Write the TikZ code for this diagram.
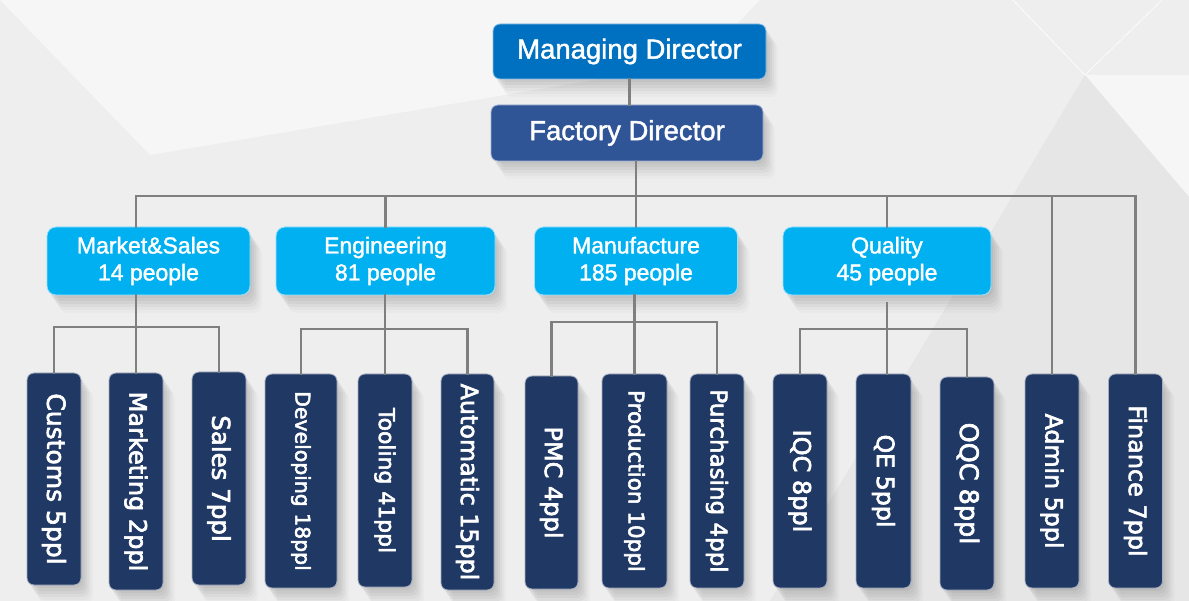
\documentclass[tikz,border=0pt]{standalone}
\usepackage{fontspec}
\setmainfont{Liberation Sans}[FakeBold=1.6]
\newfontfamily\vfont{DejaVu Sans}[FakeBold=2.6]
\usetikzlibrary{shadows}
\definecolor{mdblue}{HTML}{0070C0}
\definecolor{fdblue}{HTML}{2F5597}
\definecolor{deptblue}{HTML}{00B0F0}
\definecolor{navy}{HTML}{203864}
\definecolor{conngray}{HTML}{7F7F7F}
\definecolor{bgbase}{HTML}{EEEEEE}
\definecolor{bglight}{HTML}{F6F6F6}
\definecolor{bgdark}{HTML}{E6E6E6}
\tikzset{
  shd/.style={
    general shadow={fill=black,opacity=.04,shadow xshift=2pt,shadow yshift=-3pt},
    general shadow={fill=black,opacity=.04,shadow xshift=4pt,shadow yshift=-6pt},
    general shadow={fill=black,opacity=.035,shadow xshift=6pt,shadow yshift=-9pt},
    general shadow={fill=black,opacity=.03,shadow xshift=8pt,shadow yshift=-12pt},
    general shadow={fill=black,opacity=.025,shadow xshift=10pt,shadow yshift=-15pt},
    general shadow={fill=black,opacity=.02,shadow xshift=12pt,shadow yshift=-18pt}},
  topbox/.style={shd, rectangle, rounded corners=7pt, inner sep=0pt, outer sep=0pt,
    text=white, font=\fontsize{27.5}{30}\selectfont, line width=0.8pt},
  deptbox/.style={shd, rectangle, rounded corners=9pt, inner sep=0pt, outer sep=0pt,
    fill=deptblue, draw=deptblue!40!white, line width=0.8pt, text=white,
    align=center, font=\fontsize{23}{27}\selectfont, minimum height=68pt},
  leafbox/.style={shd, rectangle, rounded corners=7pt, inner sep=0pt, outer sep=0pt,
    fill=navy, draw=navy!40!white, line width=0.8pt},
  leaftext/.style={text=white, rotate=-90, inner sep=0pt, font=\vfont\fontsize{#1}{#1}\selectfont},
  conn/.style={draw=conngray, line width=2.2pt, line cap=rect},
}
\begin{document}
\begin{tikzpicture}[x=1pt,y=-1pt]
% background
\fill[bgbase] (0,0) rectangle (1189,601);
\useasboundingbox (0,0) rectangle (1189,601);
\fill[bglight] (0,0) -- (150,155) -- (700,62) -- (760,0) -- cycle;
\fill[bglight] (1085,75) -- (1189,75) -- (1189,197) -- cycle;
\fill[bgdark] (1085,75) -- (1189,197) -- (1189,601) -- (770,601) -- cycle;
\draw[white, line width=0.6pt] (1013,0) -- (1085,75) -- (1162,0);

% top boxes
\node[topbox, fill=mdblue, draw=mdblue!45!white, minimum width=273pt, minimum height=55pt]
  (md) at (629.5,51.5) {Managing Director};
\node[topbox, fill=fdblue, draw=fdblue!45!white, minimum width=272pt, minimum height=56pt]
  (fd) at (627,133) {Factory Director};

% departments
\node[deptbox, minimum width=203pt] (ms) at (148.5,261) {Market\&Sales\\14 people};
\node[deptbox, minimum width=219pt] (eng) at (385.5,261) {Engineering\\81 people};
\node[deptbox, minimum width=203pt] (man) at (636,261) {Manufacture\\185 people};
\node[deptbox, minimum width=208pt] (qual) at (887,261) {Quality\\45 people};

% leaf boxes
\node[leafbox, minimum width=54pt, minimum height=212pt] (cust) at (54,479) {};
\node[leafbox, minimum width=54pt, minimum height=217pt] (mkt) at (136,481.5) {};
\node[leafbox, minimum width=54pt, minimum height=213pt] (sales) at (219,478.5) {};
\node[leafbox, minimum width=72pt, minimum height=214pt] (dev) at (301,481) {};
\node[leafbox, minimum width=54pt, minimum height=213pt] (tool) at (385,480.5) {};
\node[leafbox, minimum width=53pt, minimum height=216pt] (auto) at (467.5,482) {};
\node[leafbox, minimum width=53pt, minimum height=213pt] (pmc) at (551.5,482.5) {};
\node[leafbox, minimum width=65pt, minimum height=214pt] (prod) at (634.5,481) {};
\node[leafbox, minimum width=54pt, minimum height=214pt] (purch) at (717,481) {};
\node[leafbox, minimum width=54pt, minimum height=214pt] (iqc) at (800,481) {};
\node[leafbox, minimum width=55pt, minimum height=214pt] (qe) at (883.5,481) {};
\node[leafbox, minimum width=54pt, minimum height=213pt] (oqc) at (967,483.5) {};
\node[leafbox, minimum width=54pt, minimum height=214pt] (admin) at (1052,481) {};
\node[leafbox, minimum width=54pt, minimum height=214pt] (fin) at (1135.5,481) {};

\node[leaftext=25] (cust-t) at (cust) {Customs 5ppl};
\node[leaftext=24] (mkt-t) at (mkt) {Marketing 2ppl};
\node[leaftext=24.5] (sales-t) at (sales) {Sales 7ppl};
\node[leaftext=20.4] (dev-t) at (dev) {Developing 18ppl};
\node[leaftext=21.9] (tool-t) at (tool) {Tooling 41ppl};
\node[leaftext=23.8] (auto-t) at (auto) {Automatic 15ppl};
\node[leaftext=24] (pmc-t) at (pmc) {PMC 4ppl};
\node[leaftext=21.5] (prod-t) at (prod) {Production 10ppl};
\node[leaftext=23] (purch-t) at (purch) {Purchasing 4ppl};
\node[leaftext=24] (iqc-t) at (iqc) {IQC 8ppl};
\node[leaftext=23.7] (qe-t) at (qe) {QE 5ppl};
\node[leaftext=25.5] (oqc-t) at (oqc) {OQC 8ppl};
\node[leaftext=23.7] (admin-t) at (admin) {Admin 5ppl};
\node[leaftext=23.9] (fin-t) at (fin) {Finance 7ppl};

% bus levels
\coordinate (b0) at (0,196);
\coordinate (b1) at (0,327);
\coordinate (b2) at (0,329);
\coordinate (b3) at (0,322);
\coordinate (b4) at (0,329);

% connectors
\draw[conn] (md.south) -- (md.south |- fd.north);
\draw[conn] (fd.south -| man.north) -- (man.north);
\draw[conn] (mkt |- b0) -- (fin |- b0);
\draw[conn] (mkt |- b0) -- (mkt |- ms.north);
\draw[conn] (eng |- b0) -- (eng.north);
\draw[conn] (qual |- b0) -- (qual.north);
\draw[conn] (admin |- b0) -- (admin.north);
\draw[conn] (fin |- b0) -- (fin.north);

\draw[conn] (mkt |- ms.south) -- (mkt.north);
\draw[conn] (cust.north) |- (sales |- b1) -- (sales.north);

\draw[conn] (tool |- eng.south) -- (tool.north);
\draw[conn] (dev.north) |- (auto |- b2) -- (auto.north);

\draw[conn] (prod |- man.south) -- (prod.north);
\draw[conn] (pmc.north) |- (purch |- b3) -- (purch.north);

\draw[conn] ([yshift=-8pt]qual.south) -- (qual.south |- qe.north);
\draw[conn] (iqc.north) |- (oqc |- b4) -- (oqc.north);
\end{tikzpicture}
\end{document}
